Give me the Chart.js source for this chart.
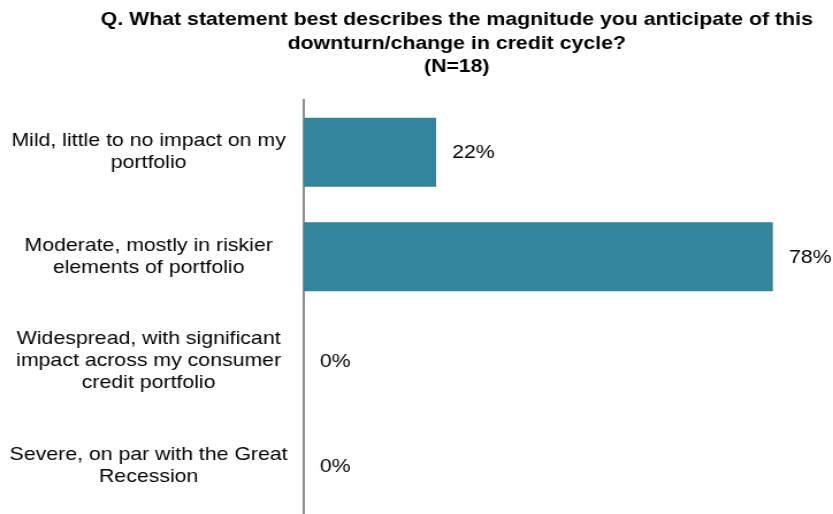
<!DOCTYPE html>
<html>
<head>
<meta charset="utf-8">
<script src="https://cdn.jsdelivr.net/npm/chart.js@4.4.0/dist/chart.umd.min.js"></script>
<style>
  html, body { margin: 0; padding: 0; background: #fff; overflow: hidden; }
  /* chart is laid out narrower and stretched to full width, like the wide exported slide */
  #wrap { position: relative; width: 724px; height: 554px; transform: scaleX(1.1506); transform-origin: 0 0; }
</style>
</head>
<body>
<div id="wrap"><canvas id="magnitudeChart"></canvas></div>
<script>
// survey answers (N=18)
const categories = [
  ['Mild, little to no impact on my', 'portfolio'],
  ['Moderate, mostly in riskier', 'elements of portfolio'],
  ['Widespread, with significant', 'impact across my consumer', 'credit portfolio'],
  ['Severe, on par with the Great', 'Recession']
];
const shares = [22, 78, 0, 0];
const titleLines = [
  'Q. What statement best describes the magnitude you anticipate of this',
  'downturn/change in credit cycle?',
  '(N=18)'
];

const FONT = "'Liberation Sans', Arial, sans-serif";

// title sits right of the canvas centre, so it's drawn by hand
const titlePlugin = {
  id: 'questionTitle',
  afterDraw(chart) {
    const ctx = chart.ctx;
    ctx.save();
    ctx.font = 'bold 18.5px ' + FONT;
    ctx.fillStyle = '#000';
    ctx.textAlign = 'center';
    ctx.textBaseline = 'alphabetic';
    titleLines.forEach((line, i) => {
      ctx.fillText(line, 397, 25 + i * 23.5);
    });
    ctx.restore();
  }
};

// percentage labels to the right of each bar
const valueLabels = {
  id: 'valueLabels',
  afterDatasetsDraw(chart) {
    const ctx = chart.ctx;
    const meta = chart.getDatasetMeta(0);
    ctx.save();
    ctx.font = '18.5px ' + FONT;
    ctx.fillStyle = '#000';
    ctx.textAlign = 'left';
    ctx.textBaseline = 'middle';
    meta.data.forEach((bar, i) => {
      ctx.fillText(shares[i] + '%', bar.x + 14, bar.y + 1);
    });
    ctx.restore();
  }
};

new Chart(document.getElementById('magnitudeChart'), {
  type: 'bar',
  data: {
    labels: categories,
    datasets: [{
      data: shares,
      backgroundColor: '#31869d',
      borderWidth: 0,
      barPercentage: 1,
      categoryPercentage: 0.66
    }]
  },
  options: {
    indexAxis: 'y',
    responsive: true,
    maintainAspectRatio: false,
    animation: false,
    layout: { padding: { top: 100, right: 0, bottom: 0, left: 0 } },
    plugins: {
      legend: { display: false },
      title: { display: false },
      tooltip: { enabled: false }
    },
    scales: {
      x: {
        display: false,
        min: 0,
        max: 88
      },
      y: {
        afterFit(scale) { scale.width = 264; },
        grid: { display: false, drawTicks: false },
        border: { display: true, color: '#8c8c8c', width: 2 },
        ticks: {
          color: '#000',
          crossAlign: 'center',
          padding: 14,
          font: { family: FONT, size: 18.5, lineHeight: 1.19 }
        }
      }
    }
  },
  plugins: [titlePlugin, valueLabels]
});
</script>
</body>
</html>
